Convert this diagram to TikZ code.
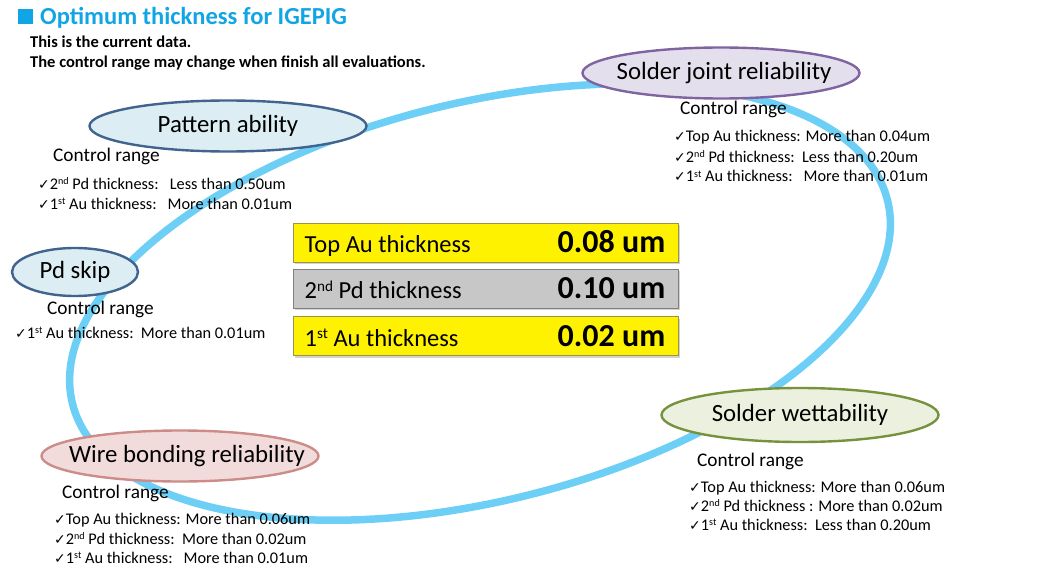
\documentclass[tikz,border=0pt]{standalone}
\usepackage{fontspec}
\setmainfont{Carlito}
\newfontfamily\symfont{DejaVu Sans}
\usepackage{xcolor}
\usetikzlibrary{shapes.geometric, shadows, positioning}

\definecolor{titleblue}{HTML}{12A5E6}
\definecolor{ringblue}{HTML}{6DCFF6}
\definecolor{sjfill}{HTML}{E4DFEC}
\definecolor{sjline}{HTML}{8064A2}
\definecolor{pafill}{HTML}{DCEEF3}
\definecolor{paline}{HTML}{41648F}
\definecolor{wbfill}{HTML}{F2DCDB}
\definecolor{wbline}{HTML}{CC8C8A}
\definecolor{swfill}{HTML}{EBF1DE}
\definecolor{swline}{HTML}{76923C}
\newcommand{\ck}{{\symfont\fontsize{14}{16}\selectfont ✓}}
\newcommand{\ord}[1]{\raisebox{0.3em}{\scalebox{0.62}{#1}}}

\begin{document}
\begin{tikzpicture}[x=1pt, y=-1pt,
    topic/.style={ellipse, line width=2.4pt, inner sep=0pt, minimum width=277pt, minimum height=51pt},
    topictext/.style={font=\fontsize{24.8}{28}\selectfont, inner sep=0pt},
    ctrl/.style={anchor=base west, inner sep=0pt, font=\fontsize{19.3}{22}\selectfont},
    entry/.style={anchor=base west, inner sep=0pt, font=\fontsize{16.3}{20}\selectfont},
    valbox/.style={rectangle, minimum width=385pt, minimum height=39pt, line width=1pt, drop shadow={shadow xshift=2pt, shadow yshift=-2pt, opacity=0.35}},
    cyclering/.style={draw=ringblue, line width=7.5pt}]

\useasboundingbox (0,0) rectangle (1052,575);

% title and note
\node (sq) [fill=titleblue, minimum size=15pt, inner sep=0pt] at (25,17) {};
\node (title) [anchor=base west, inner sep=0pt, text=titleblue, font=\bfseries\fontsize{24.5}{28}\selectfont] at (40,25) {Optimum thickness for IGEPIG};
\node (note1) [anchor=base west, inner sep=0pt, font=\bfseries\fontsize{16.5}{18}\selectfont] at (30,48) {This is the current data.};
\node (note2) [anchor=base west, inner sep=0pt, font=\bfseries\fontsize{16.5}{18}\selectfont] at (30,68) {The control range may change when finish all evaluations.};

% the cycle
\draw [cyclering, rotate around={14:(480,302)}] (480,302) ellipse [x radius=420, y radius=199];

% evaluation items
\node (sj) [topic, fill=sjfill, draw=sjline] at (721,73) {};
\node (pa) [topic, fill=pafill, draw=paline] at (228,126) {};
\node (ps) [topic, minimum width=126pt, minimum height=48pt, fill=pafill, draw=paline] at (75,272) {};
\node (wb) [topic, fill=wbfill, draw=wbline] at (180,456) {};
\node (sw) [topic, minimum height=54pt, fill=swfill, draw=swline] at (800,415) {};
\node [topictext] at ([xshift=3pt]sj) {Solder joint reliability};
\node [topictext] at (pa) {Pattern ability};
\node [topictext] at (ps) {Pd skip};
\node [topictext] at ([xshift=7pt]wb) {Wire bonding reliability};
\node [topictext] at (sw) {Solder wettability};

% control ranges
\node (sjr) [ctrl] at (680,115) {Control range};
\foreach \t [count=\i] in {{Top Au thickness: More than 0.04um},
    {2\ord{nd} Pd thickness:\ \ Less than 0.20um},
    {1\ord{st} Au thickness:\ \ \ More than 0.01um}}
  \node [entry] at (674,122+20*\i) {\ck\t};

\node (par) [ctrl] at (53,161) {Control range};
\foreach \t [count=\i] in {{2\ord{nd} Pd thickness:\ \ \ Less than 0.50um},
    {1\ord{st} Au thickness:\ \ \ More than 0.01um}}
  \node [entry] at (38,169+20*\i) {\ck\t};

\node (psr) [ctrl] at (47,314) {Control range};
\node [entry] at (15,338) {\ck1\ord{st} Au thickness:\ \ More than 0.01um};

\node (wbr) [ctrl] at (62,498) {Control range};
\foreach \t [count=\i] in {{Top Au thickness: More than 0.06um},
    {2\ord{nd} Pd thickness:\ \ More than 0.02um},
    {1\ord{st} Au thickness:\ \ \ More than 0.01um}}
  \node [entry] at (54,505+19.5*\i) {\ck\t};

\node (swr) [ctrl] at (697,466) {Control range};
\foreach \t [count=\i] in {{Top Au thickness: More than 0.06um},
    {2\ord{nd} Pd thickness : More than 0.02um},
    {1\ord{st} Au thickness:\ \ Less than 0.20um}}
  \node [entry] at (689,473+19*\i) {\ck\t};

% optimum values
\node (top) [valbox, fill=yellow, draw=yellow!55!black] at (485.5,242.5) {};
\node (pd) [valbox, fill=black!22, draw=black!50] at (485.5,288.5) {};
\node (au) [valbox, fill=yellow, draw=yellow!55!black] at (485.5,336) {};
\foreach \n/\l/\v in {top/Top Au thickness/0.08 um, pd/2\ord{nd} Pd thickness/0.10 um, au/1\ord{st} Au thickness/0.02 um} {
  \node [anchor=base west, inner sep=0pt, font=\fontsize{24.5}{26}\selectfont] at ([xshift=12pt,yshift=-10pt]\n.west) {\l};
  \node [anchor=base east, inner sep=0pt, font=\bfseries\fontsize{32}{34}\selectfont] at ([xshift=-13pt,yshift=-10pt]\n.east) {\v};
}

\end{tikzpicture}
\end{document}
